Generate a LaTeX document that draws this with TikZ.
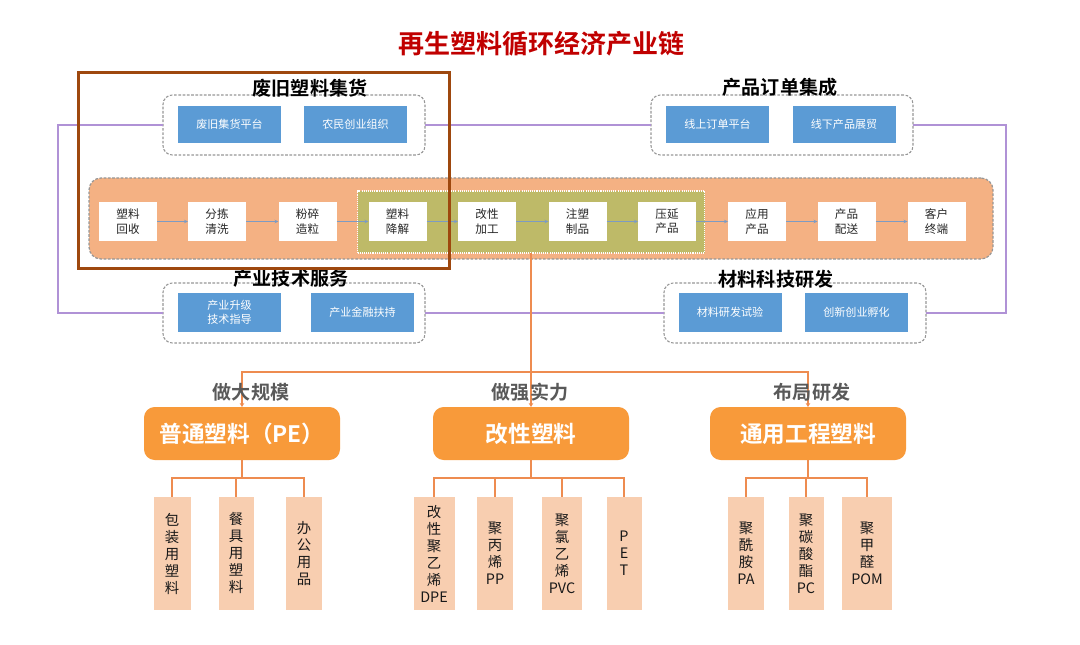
\documentclass[tikz,border=0pt]{standalone}
\usepackage{fontspec}
\setmainfont{Noto Sans CJK SC}[BoldFont={Noto Sans CJK SC Bold}]
\usetikzlibrary{arrows.meta}
\definecolor{titlered}{RGB}{192,0,0}
\definecolor{brownc}{RGB}{158,72,14}
\definecolor{myblue}{RGB}{91,155,213}
\definecolor{salmon}{RGB}{244,177,131}
\definecolor{olivec}{RGB}{190,186,104}
\definecolor{bigorange}{RGB}{248,154,58}
\definecolor{leafc}{RGB}{248,206,176}
\definecolor{purp}{RGB}{176,146,214}
\definecolor{connc}{RGB}{238,140,80}
\definecolor{chainarrow}{RGB}{125,155,195}
\definecolor{dgray}{RGB}{150,150,150}
\definecolor{subgray}{RGB}{89,89,89}
\begin{document}
\begin{tikzpicture}[x=0.75pt,y=-0.75pt,
 every node/.style={inner sep=0pt,outer sep=0pt},
 wh/.style 2 args={minimum width=#1*0.75pt,minimum height=#2*0.75pt},
 grp/.style={draw=dgray,dash pattern=on 2pt off 1.2pt,line width=0.8pt,rounded corners=7pt},
 grplabel/.style={font=\fontsize{14.3}{16}\selectfont\bfseries,text=black},
 bluebox/.style={fill=myblue,text=white,font=\fontsize{8.3}{10.7}\selectfont,align=center},
 chainbox/.style={fill=salmon,draw=dgray,dash pattern=on 2pt off 1.2pt,line width=0.9pt,rounded corners=9pt},
 greenbox/.style={fill=olivec,draw=white,dash pattern=on 0.8pt off 0.8pt,line width=1.2pt},
 stepnode/.style={fill=white,wh={58}{39},font=\fontsize{8.7}{10.7}\selectfont,align=center,text=black!85},
 chainarr/.style={draw=chainarrow,line width=0.75pt,-{Stealth[length=3pt,width=2.6pt]}},
 purpline/.style={draw=purp,line width=1.1pt},
 bigbox/.style={fill=bigorange,rounded corners=8pt,wh={196}{53},text=white,font=\fontsize{17}{20}\selectfont\bfseries},
 sublabel/.style={font=\fontsize{14.3}{16}\selectfont\bfseries,text=subgray},
 leaf/.style={fill=leafc,font=\fontsize{10.8}{12.75}\selectfont,align=center,text=black!90},
 tree/.style={draw=connc,line width=1.5pt},
 connarr/.style={draw=connc,line width=1.5pt,-{Stealth[length=3pt,width=3.5pt]}},
 brownbox/.style={draw=brownc,line width=2.25pt}
]
\useasboundingbox (0,0) rectangle (1080,645);

% title
\node[font=\fontsize{19.5}{22}\selectfont\bfseries,text=titlered] (title) at (541,44) {再生塑料循环经济产业链};

% group boxes
\node[grp,wh={262}{60}] (tl) at (294,125) {};
\node[grp,wh={262}{60}] (tr) at (782,125) {};
\node[grp,wh={262}{60}] (bl) at (294,313) {};
\node[grp,wh={262}{60}] (br) at (795,313) {};

% purple lines
\draw[purpline] (tl.west) -- ++(-105,0) coordinate (pl1) |- (bl.west);
\draw[purpline] (tr.east) -- ++(93,0) coordinate (pr1) |- (br.east);
\draw[purpline] (tl.east) -- (tr.west);
\draw[purpline] (bl.east) -- (br.west);

% group labels
\node[grplabel] (tll) at (310,88) {废旧塑料集货};
\node[grplabel] (trl) at (780,87) {产品订单集成};
\node[grplabel] (bll) at (291,278) {产业技术服务};
\node[grplabel] (brl) at (776,279) {材料科技研发};

% blue boxes
\node[bluebox,wh={103}{37}] (b1) at (229.5,124.5) {废旧集货平台};
\node[bluebox,wh={103}{37}] (b2) at (355.5,124.5) {农民创业组织};
\node[bluebox,wh={103}{37}] (b3) at (717.5,124.5) {线上订单平台};
\node[bluebox,wh={103}{37}] (b4) at (844,124.5) {线下产品展贸};
\node[bluebox,wh={103}{39}] (b5) at (229.5,312.5) {产业升级\\技术指导};
\node[bluebox,wh={103}{39}] (b6) at (362.5,312.5) {产业金融扶持};
\node[bluebox,wh={103}{39}] (b7) at (730,312.5) {材料研发试验};
\node[bluebox,wh={103}{39}] (b8) at (856.5,312.5) {创新创业孵化};

% chain
\node[chainbox,wh={904}{81}] (chain) at (541,218.5) {};
\node[greenbox,wh={347}{62}] (green) at (531,222) {};
\node[stepnode] (c1) at (128,221.5) {塑料\\回收};
\node[stepnode] (c2) at (217,221.5) {分拣\\清洗};
\node[stepnode] (c3) at (307.5,221.5) {粉碎\\造粒};
\node[stepnode] (c4) at (397.5,221.5) {塑料\\降解};
\node[stepnode] (c5) at (487,221.5) {改性\\加工};
\node[stepnode] (c6) at (577.5,221.5) {注塑\\制品};
\node[stepnode] (c7) at (667,221.5) {压延\\产品};
\node[stepnode] (c8) at (757,221.5) {应用\\产品};
\node[stepnode] (c9) at (846.5,221.5) {产品\\配送};
\node[stepnode] (c10) at (936.5,221.5) {客户\\终端};
\foreach \a/\b in {c1/c2,c2/c3,c3/c4,c4/c5,c5/c6,c6/c7,c7/c8,c8/c9,c9/c10}
  \draw[chainarr] (\a.east) -- (\b.west);

% brown highlight box
\node[brownbox,wh={371}{195}] (brown) at (263.5,170.5) {};

% big category boxes
\node[bigbox] (pe) at (242,433.5) {普通塑料（PE）};
\node[bigbox] (gx) at (531,433.5) {改性塑料};
\node[bigbox] (ty) at (808,433.5) {通用工程塑料};

% connector from chain to categories
\coordinate (split) at (531,372);
\draw[tree] (green.south) -- (split);
\draw[connarr] (split) -| (pe.north);
\draw[connarr] (split) -- (gx.north);
\draw[connarr] (split) -| (ty.north);

% sublabels
\node[sublabel] (s1) at (251,392) {做大规模};
\node[sublabel] (s2) at (530,392) {做强实力};
\node[sublabel] (s3) at (812,392) {布局研发};

% leaves
\node[leaf,wh={37}{113}] (l1) at (172,553.5) {包\\装\\用\\塑\\料};
\node[leaf,wh={35}{113}] (l2) at (236,553.5) {餐\\具\\用\\塑\\料};
\node[leaf,wh={36}{113}] (l3) at (304,553.5) {办\\公\\用\\品};
\node[leaf,wh={41}{113}] (m1) at (434,553.5) {改\\性\\聚\\乙\\烯\\DPE};
\node[leaf,wh={36}{113}] (m2) at (495,553.5) {聚\\丙\\烯\\PP};
\node[leaf,wh={40}{113}] (m3) at (562,553.5) {聚\\氯\\乙\\烯\\PVC};
\node[leaf,wh={35}{113}] (m4) at (624,553.5) {P\\E\\T};
\node[leaf,wh={36}{113}] (r1) at (746,553.5) {聚\\酰\\胺\\PA};
\node[leaf,wh={35}{113}] (r2) at (806,553.5) {聚\\碳\\酸\\酯\\PC};
\node[leaf,wh={50}{113}] (r3) at (867,553.5) {聚\\甲\\醛\\POM};

% tree lines
\path (pe.south) ++(0,18) coordinate (pej);
\path (gx.south) ++(0,18) coordinate (gxj);
\path (ty.south) ++(0,18) coordinate (tyj);
\draw[tree] (pe.south) -- (pej);
\draw[tree] (gx.south) -- (gxj);
\draw[tree] (ty.south) -- (tyj);
\foreach \l in {l1,l2,l3} \draw[tree] (pej) -| (\l.north);
\foreach \l in {m1,m2,m3,m4} \draw[tree] (gxj) -| (\l.north);
\foreach \l in {r1,r2,r3} \draw[tree] (tyj) -| (\l.north);
\end{tikzpicture}
\end{document}
